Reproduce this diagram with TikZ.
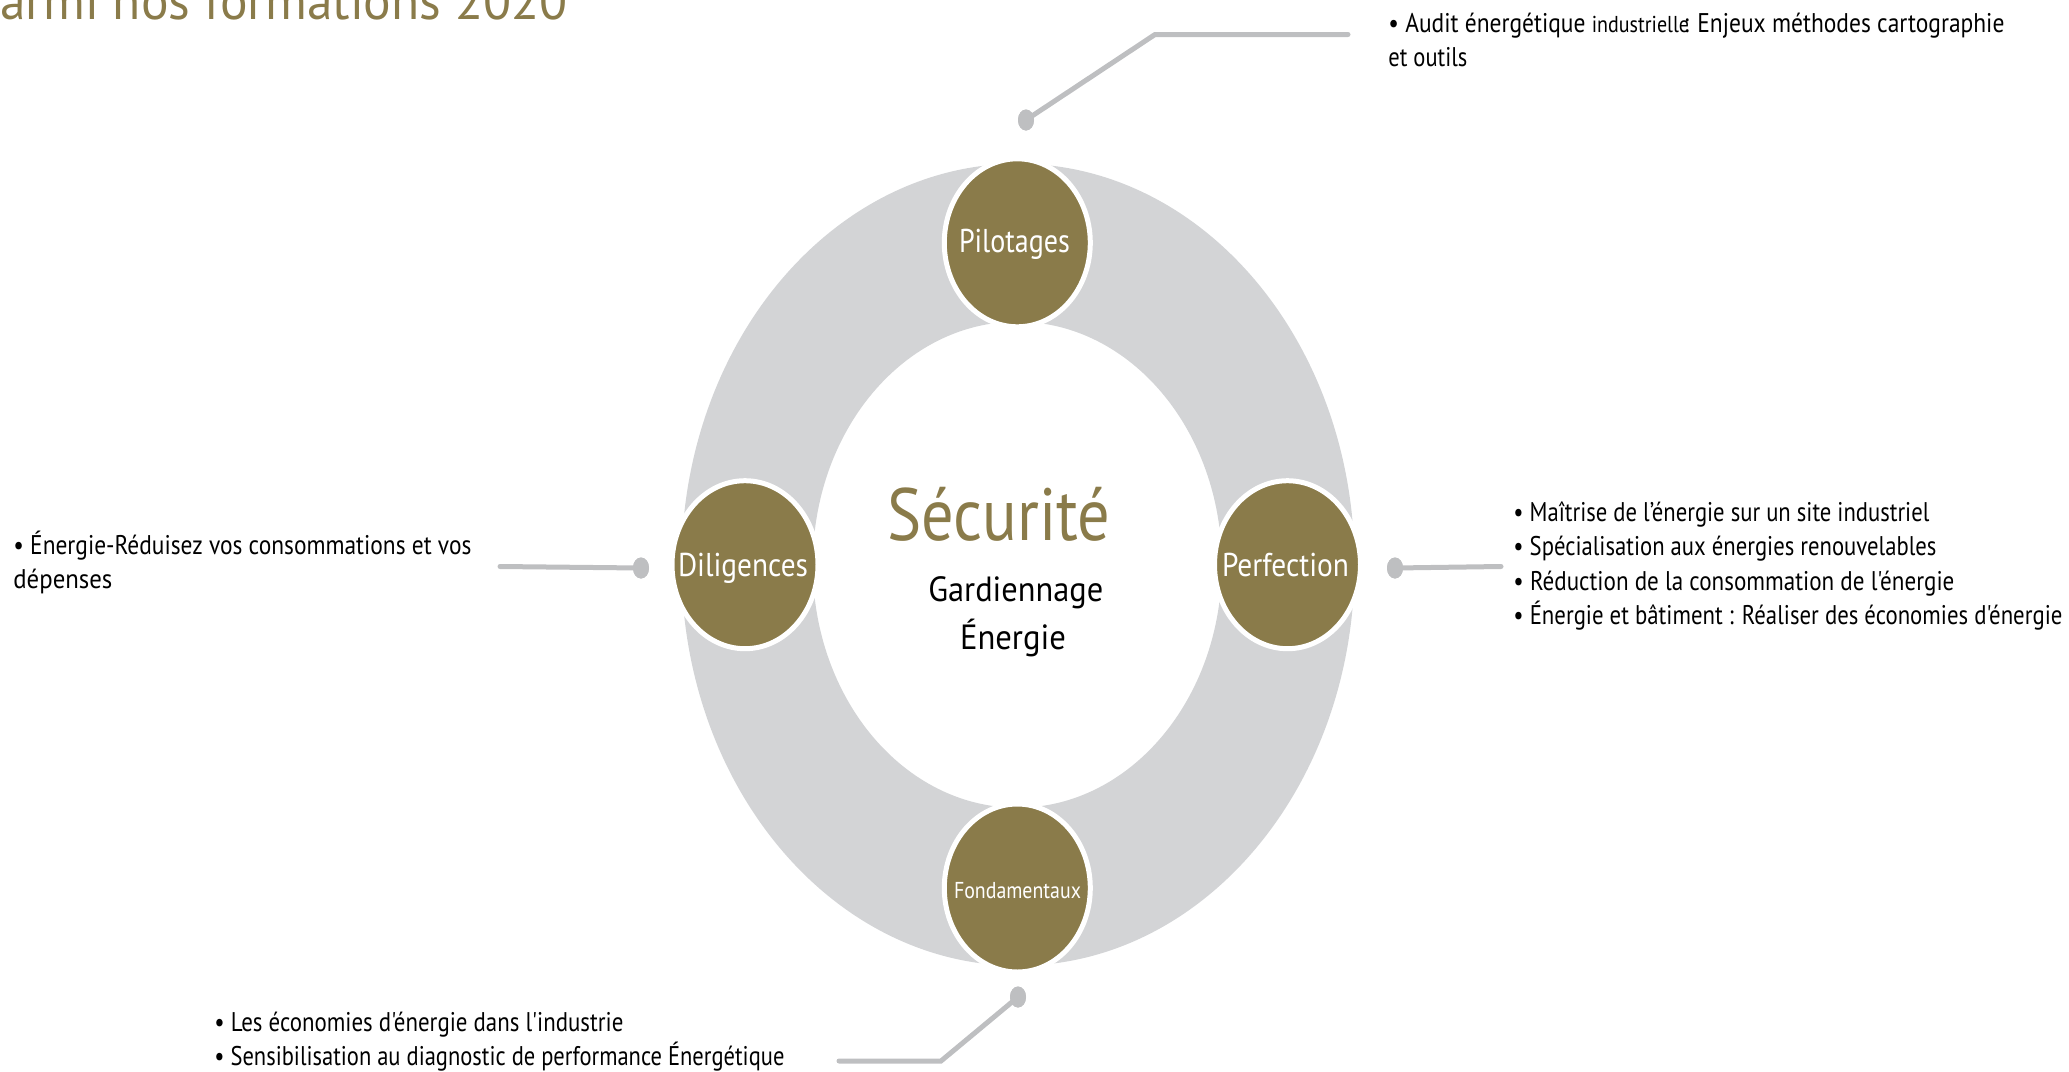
\documentclass[tikz,border=0pt]{standalone}
\usepackage{fontspec}
\setmainfont{PT Sans}[Ligatures=TeXOff]
\usepackage{graphicx}
\usetikzlibrary{shapes.geometric}
\definecolor{goldolive}{HTML}{8A7B4A}
\definecolor{ringgray}{HTML}{D3D4D6}
\definecolor{linegray}{HTML}{BEBFC1}
\newcommand{\fitw}[2]{\resizebox{#1}{\height}{#2}}
\begin{document}
\begin{tikzpicture}[x=0.5pt,y=-0.5pt,
  txt/.style={inner sep=0pt, anchor=base west, text=black, font=\fontsize{13.5}{16}\selectfont},
  disc/.style={ellipse, fill=goldolive, draw=white, line width=2.5pt, minimum width=73pt, minimum height=84pt, inner sep=0pt},
  clabel/.style={inner sep=0pt, anchor=base, text=white, font=\fontsize{16.5}{19}\selectfont},
  enddot/.style={ellipse, fill=linegray, minimum width=8pt, minimum height=10.5pt, inner sep=0pt},
  conn/.style={draw=linegray, line width=2.5pt, line cap=round}]
\useasboundingbox (0,0) rectangle (2069,1072);
\clip (0,0) rectangle (2069,1072);

% title (cut at top)
\node[inner sep=0pt, anchor=base west, text=goldolive, font=\fontsize{26.5}{30}\selectfont] (title) at (0,19) {\fitw{283.5pt}{armi nos formations 2020}};

% ring
\fill[ringgray, even odd rule] (1018,564.7) ellipse [x radius=336.5, y radius=401]
                               (1017.3,564.7) ellipse [x radius=204.5, y radius=243];

% connector end dots
\node[enddot] (dtop) at (1026,120) {};
\node[enddot] (dleft) at (641,568) {};
\node[enddot] (dright) at (1395,568) {};
\node[enddot] (dbot) at (1018,997) {};

\coordinate (ctopbend) at (1155,34.5);
\coordinate (ctopend) at (1348,34.5);
\coordinate (cleftend) at (500,566.5);
\coordinate (crightend) at (1501,566.5);
\coordinate (cbotbend) at (941,1061);
\coordinate (cbotend) at (839,1061);

\draw[conn] (dtop.center) -- (ctopbend) -- (ctopend);
\draw[conn] (dleft.center) -- (cleftend);
\draw[conn] (dright.center) -- (crightend);
\draw[conn] (dbot.center) -- (cbotbend) -- (cbotend);
\node[enddot] at (dtop) {};
\node[enddot] at (dleft) {};
\node[enddot] at (dright) {};
\node[enddot] at (dbot) {};

% discs
\node[disc] (pil) at (1017.3,242.8) {};
\node[disc] (dil) at (745,564.7) {};
\node[disc] (per) at (1287.5,564.7) {};
\node[disc] (fon) at (1017.3,888) {};

\node[clabel] (pilt) at (1014.5,252) {\fitw{55.5pt}{Pilotages}};
\node[clabel] (dilt) at (743,576) {\fitw{65pt}{Diligences}};
\node[clabel] (pert) at (1285.5,576) {\fitw{63.5pt}{Perfection}};
\node[clabel, font=\fontsize{11.5}{13}\selectfont] (font) at (1017.5,898) {\fitw{63.5pt}{Fondamentaux}};

% centre texts
\node[inner sep=0pt, anchor=base, text=goldolive, font=\fontsize{37}{44}\selectfont] (secu) at (999,540) {\fitw{111.5pt}{Sécurité}};
\node[inner sep=0pt, anchor=base, text=black, font=\fontsize{17.5}{20}\selectfont] (gard) at (1015.8,601.7) {\fitw{87.5pt}{Gardiennage}};
\node[inner sep=0pt, anchor=base, text=black, font=\fontsize{17.5}{20}\selectfont] (ener) at (1013,649.3) {\fitw{53pt}{Énergie}};

% top-right text
\node[txt] (t1) at (1388,32) {\fitw{308pt}{• Audit énergétique {\fontsize{11.5}{13}\selectfont industrielle}\kern-3pt: Enjeux méthodes cartographie}};
\node[txt] (t2) at (1388,66) {\fitw{39.5pt}{et outils}};

% left text
\node[txt] (l1) at (13,554) {\fitw{229pt}{• Énergie-Réduisez vos consommations et vos}};
\node[txt] (l2) at (13,588) {\fitw{49.5pt}{dépenses}};

% right text
\node[txt] (r1) at (1513,521) {\fitw{208pt}{• Maîtrise de l’énergie sur un site industriel}};
\node[txt] (r2) at (1513,555.5) {\fitw{211.5pt}{• Spécialisation aux énergies renouvelables}};
\node[txt] (r3) at (1513,590) {\fitw{220.5pt}{• Réduction de la consommation de l'énergie}};
\node[txt] (r4) at (1513,624.5) {\fitw{274.5pt}{• Énergie et bâtiment : Réaliser des économies d'énergie}};

% bottom text
\node[txt] (b1) at (214,1031) {\fitw{204.5pt}{• Les économies d'énergie dans l'industrie}};
\node[txt] (b2) at (214,1065) {\fitw{285pt}{• Sensibilisation au diagnostic de performance Énergétique}};
\end{tikzpicture}
\end{document}
